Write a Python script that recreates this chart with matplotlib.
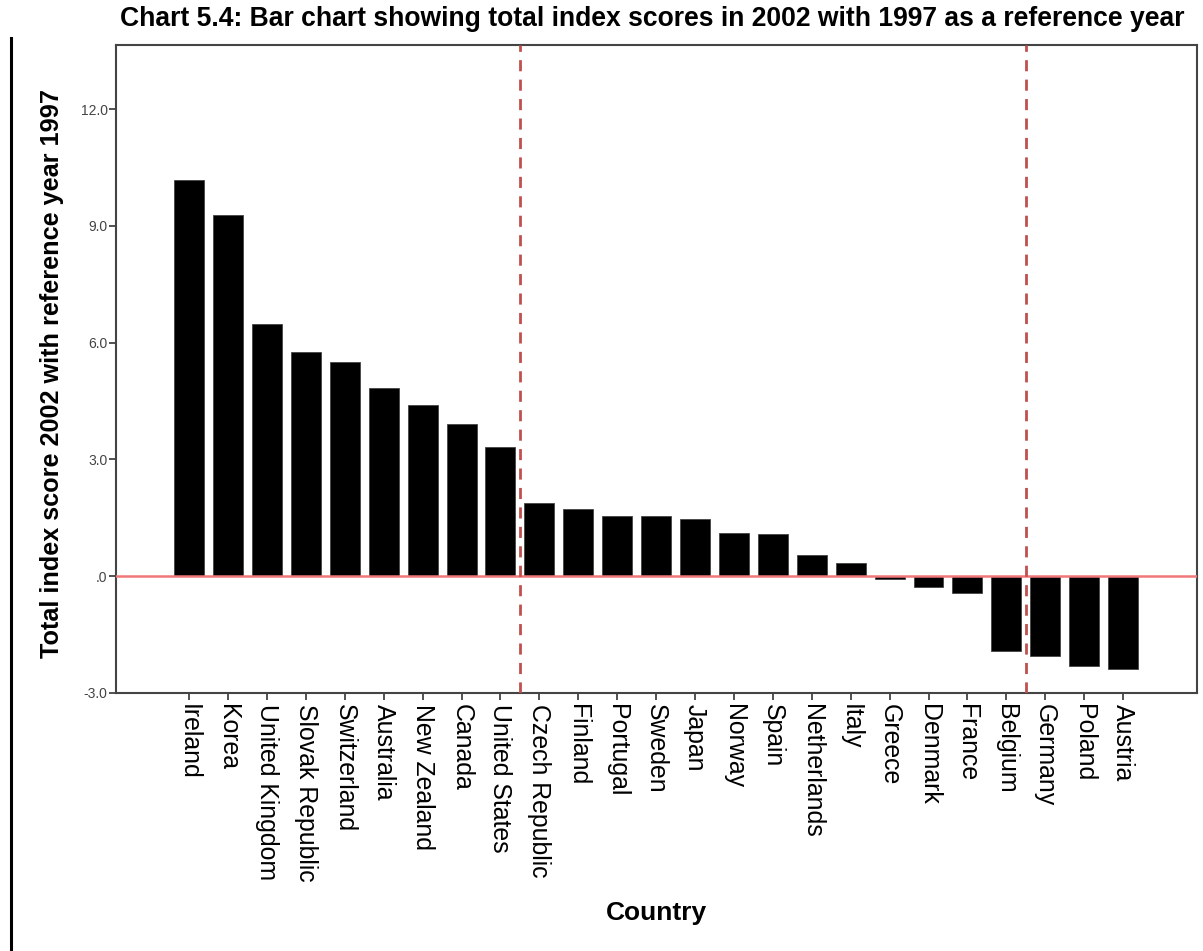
import matplotlib
matplotlib.use("Agg")
import matplotlib.pyplot as plt
from matplotlib.lines import Line2D
from matplotlib.transforms import ScaledTranslation

countries = ["Ireland", "Korea", "United Kingdom", "Slovak Republic", "Switzerland",
             "Australia", "New Zealand", "Canada", "United States", "Czech Republic",
             "Finland", "Portugal", "Sweden", "Japan", "Norway", "Spain", "Netherlands",
             "Italy", "Greece", "Denmark", "France", "Belgium", "Germany", "Poland", "Austria"]
scores = [10.17, 9.27, 6.48, 5.75, 5.51, 4.84, 4.39, 3.92, 3.33, 1.89,
          1.73, 1.55, 1.55, 1.48, 1.11, 1.08, 0.54, 0.34, -0.06, -0.27,
          -0.44, -1.91, -2.06, -2.31, -2.38]
yticks = [-3.0, 0.0, 3.0, 6.0, 9.0, 12.0]
ytick_labels = ["-3.0", ".0", "3.0", "6.0", "9.0", "12.0"]
group_breaks = [8.5, 21.5]

plt.rcParams['font.family'] = ['Liberation Sans', 'DejaVu Sans']

W, H = 1203, 951
fig = plt.figure(figsize=(W / 100, H / 100), dpi=100)
ax = fig.add_axes([116 / W, 1 - 693 / H, (1197 - 116) / W, (693 - 45) / H])

x = list(range(len(countries)))
ax.bar(x, scores, width=0.77, color="black", edgecolor="#444444", linewidth=0.6, zorder=2)
ax.axhline(0, color="#f07878", linewidth=1.8, zorder=3)
for b in group_breaks:
    ax.axvline(b, color="#c0504d", linewidth=2, linestyle=(0, (4, 3)), zorder=4)

ax.set_xlim(-1.88, 25.9)
ax.set_ylim(-3.0, 13.65)
ax.set_yticks(yticks)
ax.set_yticklabels(ytick_labels, fontsize=10, color="#444444")
ax.set_xticks(x)
ax.set_xticklabels(countries, rotation=270, fontsize=17.9, va="top", ha="center")
shift = ScaledTranslation(-7 / 100, 0, fig.dpi_scale_trans)
for lbl in ax.get_xticklabels():
    lbl.set_transform(lbl.get_transform() + shift)
ax.tick_params(axis="y", direction="out", length=5, width=1.2, color="#333333", pad=1)
ax.tick_params(axis="x", direction="out", length=5, width=1.2, color="#333333", pad=3)
for s in ax.spines.values():
    s.set_color("#444444")
    s.set_linewidth(1.5)

fig.text(652 / W, 1 - 19 / H, "Chart 5.4: Bar chart showing total index scores in 2002 with 1997 as a reference year",
         ha="center", va="center", fontsize=19.1, fontweight="bold")
fig.text(52 / W, 1 - 374 / H, "Total index score 2002 with reference year 1997",
         ha="center", va="center", rotation=90, fontsize=18.2, fontweight="bold")
fig.text(656 / W, 1 - 913 / H, "Country", ha="center", va="center", fontsize=19, fontweight="bold")

fig.add_artist(Line2D([10.5 / W, 10.5 / W], [1 - 38 / H, 0], color="black", linewidth=2.2))

fig.savefig("out.png", dpi=100)
